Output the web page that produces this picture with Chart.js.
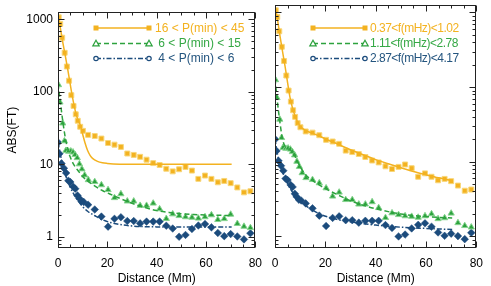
<!DOCTYPE html>
<html><head><meta charset="utf-8">
<script src="https://cdn.jsdelivr.net/npm/chart.js@4/dist/chart.umd.min.js"></script>
<style>
html,body{margin:0;padding:0;background:#fff;width:491px;height:286px;overflow:hidden}
#c1{position:absolute;left:0;top:0}
#c2{position:absolute;left:262px;top:0}
</style></head><body>
<canvas id="c1" width="270" height="286"></canvas>
<canvas id="c2" width="229" height="286"></canvas>
<script>
// ---------------- data ----------------
const X_TICKS = [0, 20, 40, 60, 80];
const Y_TICKS = [1, 10, 100, 1000];
const Y_MIN = 0.74, Y_MAX = 1260;

const legendLeft = ['16 < P(min) < 45', ' 6 < P(min) < 15', ' 4 < P(min) < 6'];
const legendRight = ['0.37<f(mHz)<1.02', '1.11<f(mHz)<2.78', '2.87<f(mHz)<4.17'];

// measured points (same in both panels)
const yellowDist = [0.3,0.9,1.7,2.7,3.6,4.5,5.4,6.3,7.2,8.0,9.0,10.1,12.2,14.9,17.6,20.3,22.9,25.5,28.1,30.7,33.3,35.9,38.6,41.2,43.9,46.5,49.1,51.7,54.3,56.9,59.6,62.2,64.8,67.4,70.0,72.7,75.4,78.0];
const yellowAbs  = [1070,870,560,347,224,143,90,64,49,40,33,29,25.5,24.6,22.7,19.7,18.7,17.4,14.1,13.5,12.7,11.6,10.4,9.8,8.7,8.0,8.55,9.2,8.2,6.3,7.0,6.3,5.65,5.9,5.5,4.8,4.1,4.25];

const greenDist = [0.2,0.8,1.9,2.6,3.2,4.3,5.2,6.1,6.9,7.8,8.7,9.7,10.8,12.3,14.9,17.6,20.3,22.9,25.5,28.1,30.7,33.3,35.9,38.6,41.2,43.9,46.5,49.1,51.7,54.3,56.9,59.6,62.2,64.8,67.4,70.0,72.7,75.4,78.0];
const greenAbs  = [125,72,37,21,15.5,15.1,15.2,14.7,13.6,12.3,10.1,8.6,7.1,6.1,5.75,5.2,4.45,3.45,3.9,3.1,3.1,2.7,2.7,2.9,2.42,1.78,2.06,1.95,1.88,1.85,1.8,1.88,2.0,1.72,1.77,2.04,1.52,1.39,1.33];

const blueDist = [0.1,0.6,1.4,2.4,3.3,4.2,5.0,6.2,7.0,7.9,8.6,9.5,10.4,12.2,14.9,17.6,20.3,22.9,25.5,28.1,30.7,33.3,35.9,38.6,41.2,43.9,46.5,49.1,51.7,54.3,56.9,59.6,62.2,64.8,67.4,70.0,72.7,75.4,78.0];
const blueAbs  = [20,14,10.3,8.85,7.6,5.95,5.7,4.9,4.6,3.72,3.4,3.1,3.03,2.77,2.38,1.9,1.38,1.77,1.86,1.65,1.65,1.53,1.62,1.62,1.62,1.42,1.30,1.0,1.06,1.28,1.43,1.5,1.35,1.13,1.02,1.09,1.01,0.92,1.12];

// fitted curves, left panel (period bands)
const yellowFitDistL = [0,1,2,3,4,5,6,7,8,9,10,11,12,13,14,16,18,20,25,30,40,50,60,70.4];
const yellowFitL     = [1200,750,470,310,200,125,80,55,42,35,26,19.5,15.5,13.3,12.1,11,10.5,10.3,10.05,10,10,10,10,10];
const greenFitDistL  = [0,1,2,3,4,5,6,7,8,10,12,15,18,21,25,30,35,40,45,50,55,60,65,70.4];
const greenFitL      = [130,70,38,23,16,12.5,10.5,9.2,8.3,6.8,5.9,5.0,4.35,3.9,3.4,2.9,2.55,2.3,2.17,2.08,2.03,2.0,1.98,1.97];
const blueFitDistL   = [0,1,2,3,4,5,6,8,10,12,15,18,22,26,30,35,40,50,60,70.4];
const blueFitL       = [20,13.5,9.5,7.2,5.8,4.8,4.1,3.2,2.6,2.25,1.95,1.72,1.55,1.46,1.41,1.38,1.37,1.36,1.36,1.36];

// fitted curves, right panel (frequency bands)
const yellowFitDistR = [0,1,2,3,4,5,6,7,8,9,10,12,15,18,21,25,30,35,40,45,50,55,60,65,70.4];
const yellowFitR     = [1200,800,480,300,190,115,72,52,41,34,30,26.5,24,21.8,19.6,17.2,14.5,12.4,10.7,9.4,8.3,7.4,6.7,6.1,5.6];
const greenFitDistR  = [0,1,2,3,4,5,6,7,8,9,10,12,15,18,21,25,30,35,40,45,50,55,60,65,70.4];
const greenFitR      = [130,62,33,20,16,15,14.5,13.3,11.8,10,8.6,6.8,5.6,4.8,4.2,3.6,3.0,2.62,2.35,2.15,2.0,1.9,1.85,1.8,1.77];
const blueFitDistR   = [0,1,2,3,4,5,6,8,10,12,15,18,22,26,30,35,40,45,50,55,60,65,70.4];
const blueFitR       = [20,12.5,9.2,7.3,6.0,5.1,4.4,3.5,2.95,2.6,2.25,1.98,1.78,1.65,1.57,1.48,1.42,1.37,1.33,1.3,1.28,1.26,1.24];

// ---------------- styling ----------------
const FONT = '"Liberation Sans", Arial, Helvetica, sans-serif';
const YEL = '#F3B220', GRN = '#2DA23E', BLU = '#1B4B7C';
const YEL_T = '#F3B220', GRN_T = '#35A845', BLU_T = '#24557F';
const DASH_G = [5, 3], DASH_B = [5, 2, 1.5, 2];

const pairs = (xs, ys) => xs.map((x, i) => ({x, y: ys[i]}));

function pointSets() {
  return [
    {data: pairs(yellowDist, yellowAbs), pointStyle: 'rect', pointRadius: 3.5, backgroundColor: YEL, borderColor: '#F8D77A', borderWidth: 1, showLine: false},
    {data: pairs(greenDist, greenAbs), pointStyle: 'triangle', pointRadius: 3.6, backgroundColor: GRN, borderColor: '#86D48F', borderWidth: 1, showLine: false},
    {data: pairs(blueDist, blueAbs), pointStyle: 'rectRot', pointRadius: 3.8, backgroundColor: BLU, borderColor: BLU, borderWidth: 0.5, showLine: false},
  ];
}
function fitSet(xs, ys, color, dash) {
  return {data: pairs(xs, ys), showLine: true, pointRadius: 0, borderColor: color, borderWidth: 1.5,
          borderDash: dash, cubicInterpolationMode: 'monotone', fill: false};
}

const framePlugin = {
  id: 'frame',
  afterDraw(chart) {
    const {ctx, chartArea: a, scales: {x, y}} = chart;
    ctx.save();
    ctx.strokeStyle = '#222';
    ctx.lineWidth = 1;
    ctx.setLineDash([]);
    const L = Math.round(a.left) + 0.5, R = Math.round(a.right) - 0.5;
    const T = Math.round(a.top) + 0.5, B = Math.round(a.bottom) - 0.5;
    ctx.strokeRect(L, T, R - L, B - T);
    ctx.beginPath();
    for (let v = X_TICKS[0]; v <= X_TICKS[X_TICKS.length - 1]; v += 5) {
      const px = Math.round(x.getPixelForValue(v)) + 0.5;
      const len = (v % 20 === 0) ? 6 : 3;
      ctx.moveTo(px, B); ctx.lineTo(px, B - len);
      ctx.moveTo(px, T); ctx.lineTo(px, T + len);
    }
    for (let e = -1; e <= 3; e++) {
      for (let k = 1; k <= 9; k++) {
        const v = k * Math.pow(10, e);
        if (v < Y_MIN || v > Y_MAX) continue;
        const py = Math.round(y.getPixelForValue(v)) + 0.5;
        const len = (k === 1) ? 6 : 3;
        ctx.moveTo(L, py); ctx.lineTo(L + len, py);
        ctx.moveTo(R, py); ctx.lineTo(R - len, py);
      }
    }
    ctx.stroke();
    ctx.restore();
  }
};

function makeLegendPlugin(cfg) {
  return {
    id: 'customLegend',
    afterDraw(chart) {
      const ctx = chart.ctx;
      ctx.save();
      const styles = [
        {c: YEL, t: YEL_T, dash: [], m: 'sq'},
        {c: GRN, t: GRN_T, dash: DASH_G, m: 'tri'},
        {c: BLU, t: BLU_T, dash: DASH_B, m: 'circ'},
      ];
      cfg.labels.forEach((lab, i) => {
        const s = styles[i];
        const yy = cfg.rows[i];
        ctx.strokeStyle = s.c; ctx.lineWidth = 1.5; ctx.setLineDash(s.dash);
        ctx.beginPath(); ctx.moveTo(cfg.x1, yy); ctx.lineTo(cfg.x2, yy); ctx.stroke();
        ctx.setLineDash([]);
        [cfg.x1, cfg.x2].forEach(mx => {
          if (s.m === 'sq') { ctx.fillStyle = s.c; ctx.fillRect(mx - 2.5, yy - 2.5, 5, 5); }
          else if (s.m === 'tri') {
            ctx.lineWidth = 1.2; ctx.beginPath();
            ctx.moveTo(mx, yy - 3.2); ctx.lineTo(mx + 3.2, yy + 2.4); ctx.lineTo(mx - 3.2, yy + 2.4); ctx.closePath();
            ctx.fillStyle = '#fff'; ctx.fill(); ctx.stroke();
          } else {
            ctx.lineWidth = 1.2; ctx.beginPath(); ctx.arc(mx, yy, 2.2, 0, Math.PI * 2);
            ctx.fillStyle = '#fff'; ctx.fill(); ctx.stroke();
          }
        });
        ctx.fillStyle = s.t;
        ctx.font = cfg.fontSize + 'px ' + FONT;
        if ('letterSpacing' in ctx) ctx.letterSpacing = cfg.spacing;
        ctx.textBaseline = 'middle';
        ctx.textAlign = 'left';
        ctx.fillText(lab, cfg.tx, yy + 0.5);
      });
      ctx.restore();
    }
  };
}

function xScale() {
  return {
    type: 'linear', min: X_TICKS[0], max: X_TICKS[X_TICKS.length - 1],
    grid: {display: false, drawTicks: false}, border: {display: false},
    afterBuildTicks(s) { s.ticks = X_TICKS.map(v => ({value: v})); },
    ticks: {padding: 8, color: '#000', font: {family: FONT, size: 12}, maxRotation: 0, autoSkip: false},
    title: {display: true, text: 'Distance (Mm)', color: '#000', font: {family: FONT, size: 12}, padding: {top: 0, bottom: 0.5}},
    afterFit(s) { s.height = 38; }
  };
}

const common = {
  responsive: false, animation: false, devicePixelRatio: 1,
  plugins: {legend: {display: false}, tooltip: {enabled: false}},
};

new Chart(document.getElementById('c1'), {
  type: 'scatter',
  data: {datasets: [
    fitSet(yellowFitDistL, yellowFitL, YEL, []),
    fitSet(greenFitDistL, greenFitL, GRN, DASH_G),
    fitSet(blueFitDistL, blueFitL, BLU, DASH_B),
    ...pointSets()
  ]},
  options: Object.assign({}, common, {
    layout: {padding: {left: 0, right: 4, top: 5, bottom: 0}},
    scales: {
      x: xScale(),
      y: {
        type: 'logarithmic', min: Y_MIN, max: Y_MAX,
        grid: {display: false, drawTicks: false}, border: {display: false},
        afterBuildTicks(s) { s.ticks = Y_TICKS.map(v => ({value: v})); },
        ticks: {padding: 5, color: '#000', font: {family: FONT, size: 12}, callback: v => String(v)},
        title: {display: true, text: 'ABS(FT)', color: '#000', font: {family: FONT, size: 12}, padding: {top: 5, bottom: 0}},
        afterFit(s) { s.width = 58; }
      }
    }
  }),
  plugins: [framePlugin, makeLegendPlugin({labels: legendLeft, x1: 96, x2: 149, tx: 155, rows: [28, 43.5, 58.5], fontSize: 12, spacing: '0px'})]
});

new Chart(document.getElementById('c2'), {
  type: 'scatter',
  data: {datasets: [
    fitSet(yellowFitDistR, yellowFitR, YEL, []),
    fitSet(greenFitDistR, greenFitR, GRN, DASH_G),
    fitSet(blueFitDistR, blueFitR, BLU, DASH_B),
    ...pointSets()
  ]},
  options: Object.assign({}, common, {
    layout: {padding: {left: 13, right: 10, top: 5, bottom: 0}},
    scales: {
      x: xScale(),
      y: {type: 'logarithmic', min: Y_MIN, max: Y_MAX, display: false}
    }
  }),
  plugins: [framePlugin, makeLegendPlugin({labels: legendRight, x1: 51, x2: 103, tx: 108, rows: [28, 43.5, 58.5], fontSize: 12, spacing: '-0.5px'})]
});
</script>
</body></html>
